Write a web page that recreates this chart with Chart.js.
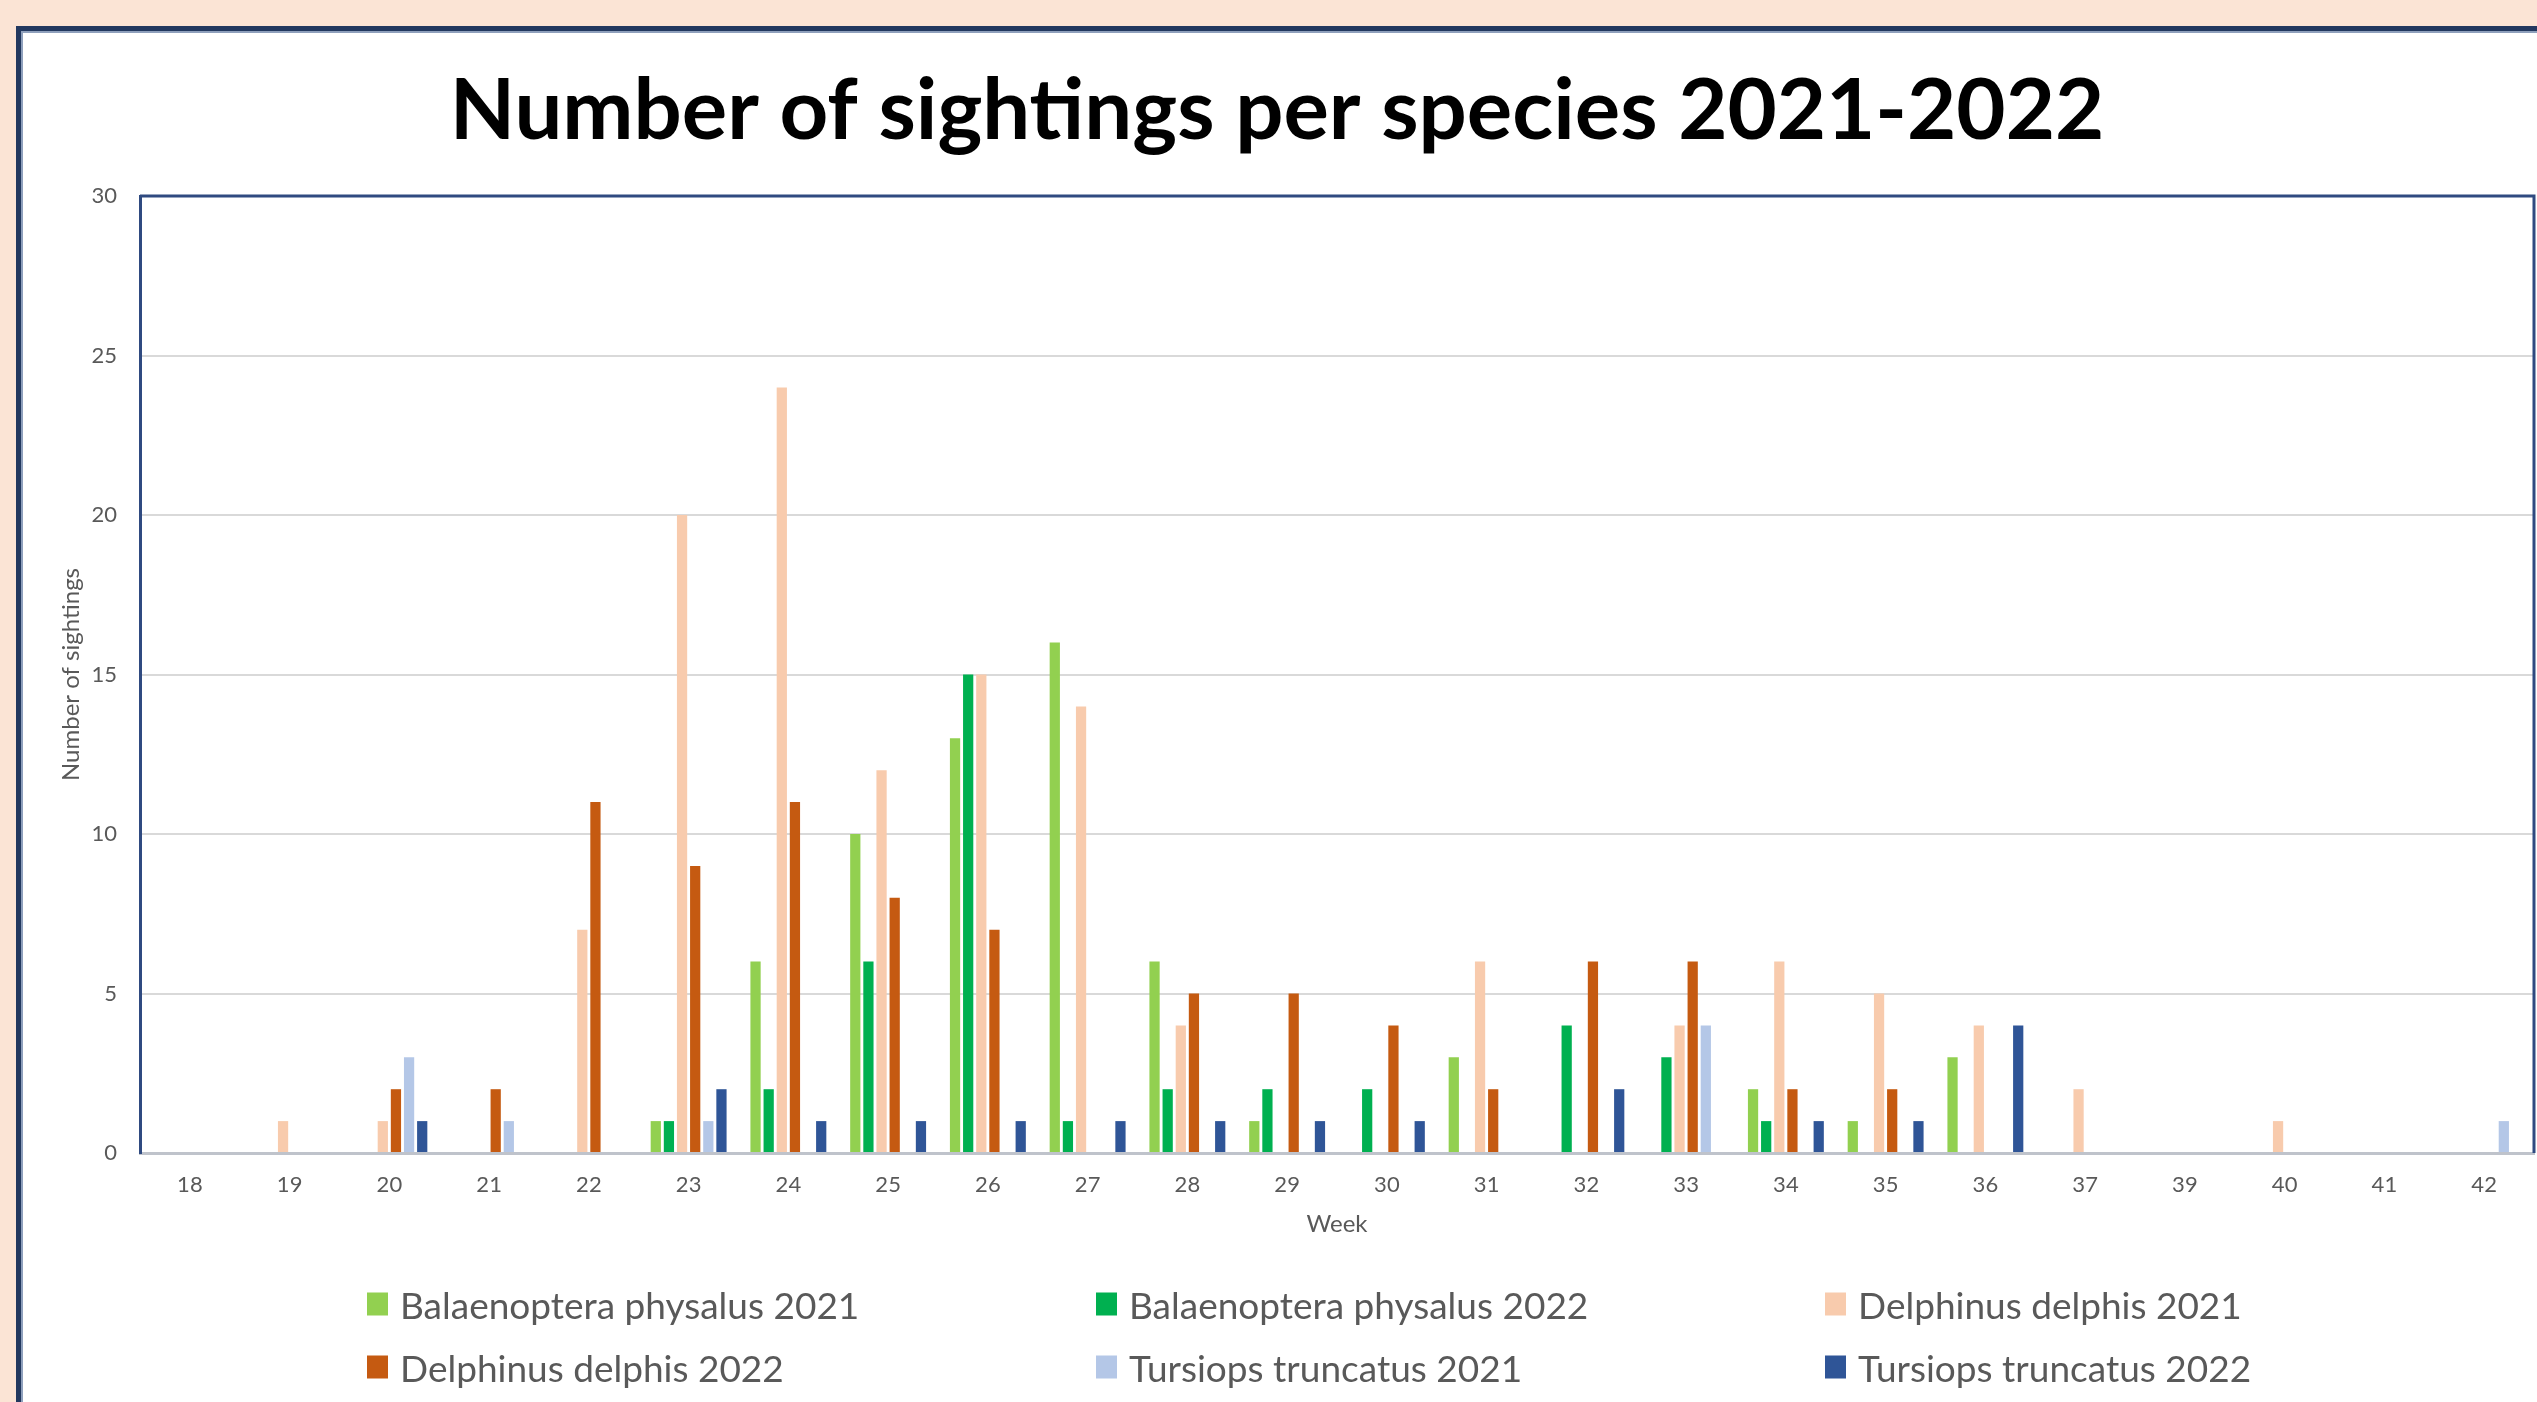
<!DOCTYPE html>
<html>
<head>
<meta charset="utf-8">
<script src="https://cdn.jsdelivr.net/npm/chart.js@4.4.0/dist/chart.umd.min.js"></script>
<style>
  html, body { margin: 0; padding: 0; width: 2537px; height: 1402px; overflow: hidden; background: #FBE4D5; }
  #frame { position: absolute; left: 16px; top: 26px; width: 2580px; height: 1440px; background: #fff;
           border-left: 5px solid #22385F; border-top: 5px solid #22385F; box-shadow: inset 2px 2px 0 #8FA0BC; }
  #chart { position: absolute; left: 0; top: 0; }
  #legend { position: absolute; left: 0; top: 0; font-family: Lato, sans-serif; font-size: 37px; color: #595959; }
  .item { position: absolute; display: flex; align-items: center; white-space: nowrap; transform: translateY(-50%); }
  .item .box { display: inline-block; width: 21px; height: 23px; margin-right: 12px; }
</style>
</head>
<body>
<div id="frame"></div>
<canvas id="chart" width="2537" height="1402"></canvas>
<div id="legend"></div>
<script>
const weeks = ['18', '19', '20', '21', '22', '23', '24', '25', '26', '27', '28', '29',
               '30', '31', '32', '33', '34', '35', '36', '37', '39', '40', '41', '42'];

const balaenoptera2021 = [0, 0, 0, 0, 0, 1, 6, 10, 13, 16, 6, 1, 0, 3, 0, 0, 2, 1, 3, 0, 0, 0, 0, 0];
const balaenoptera2022 = [0, 0, 0, 0, 0, 1, 2, 6, 15, 1, 2, 2, 2, 0, 4, 3, 1, 0, 0, 0, 0, 0, 0, 0];
const delphinus2021    = [0, 1, 1, 0, 7, 20, 24, 12, 15, 14, 4, 0, 0, 6, 0, 4, 6, 5, 4, 2, 0, 1, 0, 0];
const delphinus2022    = [0, 0, 2, 2, 11, 9, 11, 8, 7, 0, 5, 5, 4, 2, 6, 6, 2, 2, 0, 0, 0, 0, 0, 0];
const tursiops2021     = [0, 0, 3, 1, 0, 1, 0, 0, 0, 0, 0, 0, 0, 0, 0, 4, 0, 0, 0, 0, 0, 0, 0, 1];
const tursiops2022     = [0, 0, 1, 0, 0, 2, 1, 1, 1, 1, 1, 1, 1, 0, 2, 0, 1, 1, 4, 0, 0, 0, 0, 0];

const seriesNames = ['Balaenoptera physalus 2021', 'Balaenoptera physalus 2022', 'Delphinus delphis 2021',
                     'Delphinus delphis 2022', 'Tursiops truncatus 2021', 'Tursiops truncatus 2022'];
const seriesValues = [balaenoptera2021, balaenoptera2022, delphinus2021, delphinus2022, tursiops2021, tursiops2022];
const colors = ['#92D050', '#00B050', '#F8CBAD', '#C55A11', '#B4C7E7', '#2F5597'];

const yTicks = [0, 5, 10, 15, 20, 25, 30];

const grey = '#595959';
const navy = '#2F4A80';

// top + right edge of the plot area
const plotFrame = {
  id: 'plotFrame',
  afterDraw(chart) {
    let { ctx, chartArea: a } = chart;
    ctx.save();
    ctx.strokeStyle = navy;
    ctx.lineWidth = 3;
    ctx.beginPath();
    ctx.moveTo(a.left, a.top);
    ctx.lineTo(a.right, a.top);
    ctx.lineTo(a.right, a.bottom);
    ctx.stroke();
    ctx.restore();
  }
};

let data = {
  labels: weeks,
  datasets: seriesNames.map((name, i) => ({
    label: name,
    data: seriesValues[i],
    backgroundColor: colors[i],
    borderWidth: 0,
    categoryPercentage: 0.79,
    barPercentage: 0.78
  }))
};

let options = {
  responsive: false,
  animation: false,
  layout: { padding: { left: 20, right: 3, top: 0, bottom: 149 } },
  plugins: {
    legend: { display: false },
    tooltip: { enabled: false },
    title: {
      display: true,
      text: 'Number of sightings per species 2021-2022',
      color: '#000',
      font: { family: 'Lato', size: 85, weight: 'bold', lineHeight: 1.2 },
      padding: { top: 61, bottom: 33 }
    }
  },
  scales: {
    x: {
      ticks: { padding: 19, color: grey, font: { family: 'Lato', size: 22 } },
      grid: { display: false, drawTicks: false },
      border: { display: true, color: '#BFC3CB', width: 3 },
      title: { display: true, text: 'Week', color: grey, font: { family: 'Lato', size: 24 }, padding: { top: 14, bottom: 14 } },
      afterFit: s => { s.height = 100; }
    },
    y: {
      min: yTicks[0],
      max: yTicks[yTicks.length - 1],
      afterBuildTicks: s => { s.ticks = yTicks.map(v => ({ value: v })); },
      ticks: { padding: 23, color: grey, font: { family: 'Lato', size: 22 } },
      grid: { color: '#D9D9D9', lineWidth: 2, drawTicks: false },
      border: { display: true, color: navy, width: 3 },
      title: { display: true, text: 'Number of sightings', color: grey, font: { family: 'Lato', size: 24 }, padding: { top: 37, bottom: 37 } },
      afterFit: s => { s.width = 120; }
    }
  }
};

new Chart('chart', { type: 'bar', data, options, plugins: [plotFrame] });

// legend, three columns by two rows as in the original
const legendCols = [367, 1096, 1825];
const legendRows = [1304, 1367];
const legend = document.getElementById('legend');
seriesNames.forEach((name, i) => {
  let item = document.createElement('div');
  item.className = 'item';
  item.style.left = legendCols[i % 3] + 'px';
  item.style.top = legendRows[Math.floor(i / 3)] + 'px';
  item.innerHTML = '<span class="box" style="background:' + colors[i] + '"></span><span>' + name + '</span>';
  legend.appendChild(item);
});
</script>
</body>
</html>
